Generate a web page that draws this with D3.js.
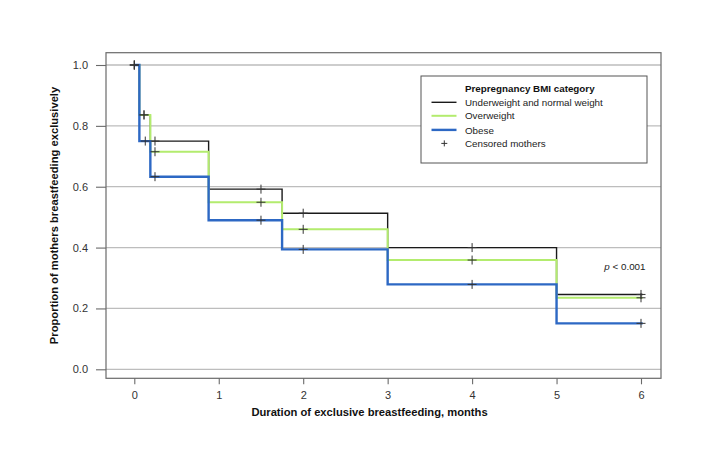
<!DOCTYPE html>
<html>
<head>
<meta charset="utf-8">
<script src="https://cdn.jsdelivr.net/npm/d3@7"></script>
<style>
  html, body { margin: 0; padding: 0; background: #fff; }
  svg { display: block; font-family: "Liberation Sans", Arial, Helvetica, sans-serif; }
</style>
</head>
<body>
<svg id="chart" width="718" height="473"></svg>
<script>
// ---- data ----
const stepTimes = [0, 0.06, 0.19, 0.88, 1.75, 3.0, 5.0, 6.02];
const underweightNormal = [1.0, 0.836, 0.750, 0.592, 0.513, 0.400, 0.246];
const overweight        = [1.0, 0.836, 0.715, 0.549, 0.460, 0.359, 0.235];
const obese             = [1.0, 0.750, 0.633, 0.490, 0.394, 0.279, 0.151];
const censorUnderweightNormal = [0, 0.115, 0.245, 1.5, 2, 4, 6];
const censorOverweight        = [0, 0.115, 0.245, 1.5, 2, 4, 6];
const censorObese             = [0, 0.13, 0.245, 1.5, 2, 4, 6];
const seriesNames = ["Underweight and normal weight", "Overweight", "Obese"];
const xTicks = [0, 1, 2, 3, 4, 5, 6];
const yTicks = [0.0, 0.2, 0.4, 0.6, 0.8, 1.0];

const colors = ["#1a1a1a", "#b3ec6e", "#2d68c4"];
const widths = [1.4, 2.0, 2.4];

const svg = d3.select("#chart");
const box = { left: 106, right: 661, top: 52.7, bottom: 378.3 };
const x = d3.scaleLinear().domain([0, 6]).range([134.3, 641]);
const y = d3.scaleLinear().domain([0, 1]).range([369.3, 65]);

// gridlines
svg.append("g").selectAll("line").data(yTicks).join("line")
  .attr("x1", box.left).attr("x2", box.right)
  .attr("y1", d => y(d)).attr("y2", d => y(d))
  .attr("stroke", "#bdbdbd").attr("stroke-width", 1.3);

// frame
svg.append("rect")
  .attr("x", box.left).attr("y", box.top)
  .attr("width", box.right - box.left).attr("height", box.bottom - box.top)
  .attr("fill", "none").attr("stroke", "#6a6a6a").attr("stroke-width", 1.2);

// axes
const xAxis = svg.append("g").attr("transform", `translate(0,${box.bottom})`)
  .call(d3.axisBottom(x).tickValues(xTicks).tickFormat(d3.format("d")).tickSize(6).tickPadding(7));
const yAxis = svg.append("g").attr("transform", `translate(${box.left},0)`)
  .call(d3.axisLeft(y).tickValues(yTicks).tickFormat(d3.format(".1f")).tickSize(10).tickPadding(8));
[xAxis, yAxis].forEach(a => {
  a.select(".domain").remove();
  a.selectAll(".tick line").attr("stroke", "#6a6a6a").attr("stroke-width", 1.1);
  a.selectAll(".tick text").attr("fill", "#333").attr("font-size", 11)
    .attr("font-family", "'Liberation Sans', Arial, sans-serif");
});

// axis titles
svg.append("text").attr("x", 369.5).attr("y", 416)
  .attr("text-anchor", "middle").attr("font-weight", "bold").attr("font-size", 11.2)
  .attr("fill", "#111").text("Duration of exclusive breastfeeding, months");
svg.append("text").attr("transform", "translate(57.5,215.5) rotate(-90)")
  .attr("text-anchor", "middle").attr("font-weight", "bold").attr("font-size", 11.2)
  .attr("fill", "#111").text("Proportion of mothers breastfeeding exclusively");

// survival curves
const allSeries = [underweightNormal, overweight, obese];
const censors = [censorUnderweightNormal, censorOverweight, censorObese];
const stepLine = d3.line().x(d => x(d[0])).y(d => y(d[1])).curve(d3.curveStepAfter);
function stepValue(vals, t) {
  let v = vals[0];
  for (let i = 0; i < vals.length; i++) if (t >= stepTimes[i]) v = vals[i];
  return v;
}
allSeries.forEach((vals, k) => {
  const pts = vals.map((v, i) => [stepTimes[i], v]);
  pts.push([stepTimes[stepTimes.length - 1], vals[vals.length - 1]]);
  svg.append("path").datum(pts).attr("d", stepLine)
    .attr("fill", "none").attr("stroke", colors[k]).attr("stroke-width", widths[k]);
});

// censor marks
const plus = (g, cx, cy, w, h) => {
  g.append("line").attr("x1", cx - w / 2).attr("x2", cx + w / 2).attr("y1", cy).attr("y2", cy);
  g.append("line").attr("x1", cx).attr("x2", cx).attr("y1", cy - h / 2).attr("y2", cy + h / 2);
};
const marks = svg.append("g").attr("stroke", "#333").attr("stroke-width", 1);
censors.forEach((ts, k) => {
  ts.forEach(t => plus(marks, x(t), y(stepValue(allSeries[k], t)), 9, 9));
});

// p-value
const pt = svg.append("text").attr("x", 645.5).attr("y", 269.5)
  .attr("text-anchor", "end").attr("font-size", 9.8).attr("fill", "#222");
pt.append("tspan").attr("font-style", "italic").text("p");
pt.append("tspan").text(" < 0.001");

// legend
const lg = svg.append("g");
lg.append("rect").attr("x", 421).attr("y", 76).attr("width", 226).attr("height", 87)
  .attr("fill", "#fff").attr("stroke", "#555").attr("stroke-width", 1);
lg.append("text").attr("x", 465).attr("y", 92).attr("font-weight", "bold")
  .attr("font-size", 9.8).attr("fill", "#111").text("Prepregnancy BMI category");
const rowY = [102.3, 115.8, 129.9, 143.4];
seriesNames.forEach((n, k) => {
  lg.append("line").attr("x1", 431.5).attr("x2", 456.5).attr("y1", rowY[k]).attr("y2", rowY[k])
    .attr("stroke", colors[k]).attr("stroke-width", widths[k]);
  lg.append("text").attr("x", 465).attr("y", rowY[k] + 3.6).attr("font-size", 9.8)
    .attr("fill", "#222").text(n);
});
const lgPlus = lg.append("g").attr("stroke", "#333").attr("stroke-width", 1);
plus(lgPlus, 444.3, rowY[3], 6, 6);
lg.append("text").attr("x", 465).attr("y", rowY[3] + 3.6).attr("font-size", 9.8)
  .attr("fill", "#222").text("Censored mothers");
</script>
</body>
</html>
